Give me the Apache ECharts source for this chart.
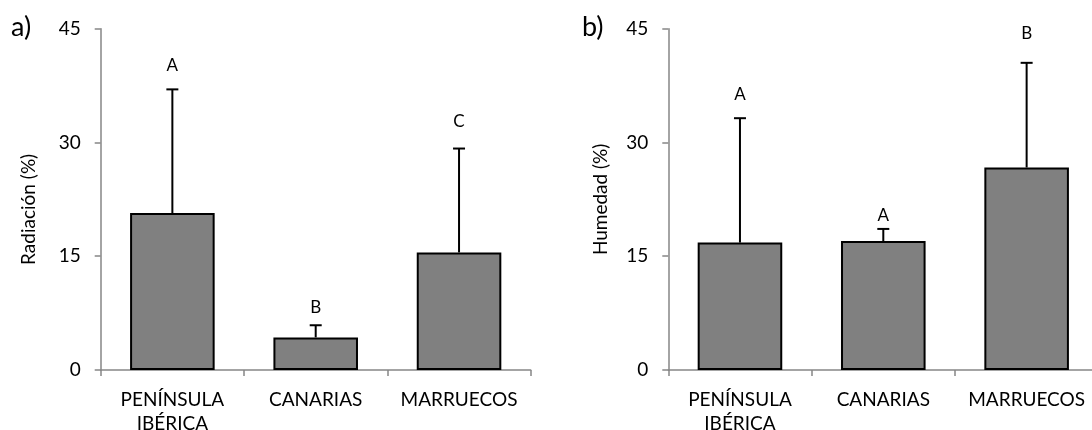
<!DOCTYPE html>
<html><head><meta charset="utf-8">
<script src="https://cdn.jsdelivr.net/npm/echarts@6/dist/echarts.min.js"></script>
<style>html,body{margin:0;padding:0;background:#fff}#c{width:1092px;height:430px}</style>
</head><body><div id="c"></div>
<script>
const categories = ['PENÍNSULA\nIBÉRICA', 'CANARIAS', 'MARRUECOS'];
const yTicks = [0, 15, 30, 45];
// Panel a) Radiación
const radMean = [20.7, 4.3, 15.5];
const radErrTop = [37.0, 5.9, 29.2];
const radLetters = ['A', 'B', 'C'];
const radLetterY = [40.2, 8.2, 32.7];
// Panel b) Humedad
const humMean = [16.8, 17.0, 26.7];
const humErrTop = [33.2, 18.6, 40.5];
const humLetters = ['A', 'A', 'B'];
const humLetterY = [36.3, 20.4, 44.4];

const FONT = 'Lato';
const chart = echarts.init(document.getElementById('c'), null, {renderer: 'canvas'});

function xAxis(gi) {
  return {
    type: 'category', gridIndex: gi, data: categories,
    axisLine: {lineStyle: {color: '#868686', width: 1.5}},
    axisTick: {show: true, length: 6, lineStyle: {color: '#868686', width: 1.5}},
    axisLabel: {color: '#000', fontFamily: FONT, fontSize: 19, lineHeight: 24, margin: 18, interval: 0}
  };
}
function yAxis(gi, name, gap, pad) {
  return {
    type: 'value', gridIndex: gi, min: 0, max: 45, interval: 15,
    name: name, nameLocation: 'middle', nameGap: gap, nameRotate: 90,
    nameTextStyle: {color: '#000', fontFamily: FONT, fontSize: 19, padding: pad},
    splitLine: {show: false},
    axisLine: {show: true, lineStyle: {color: '#868686', width: 1.5}},
    axisTick: {show: true, length: 6, lineStyle: {color: '#868686', width: 1.5}},
    axisLabel: {color: '#000', fontFamily: FONT, fontSize: 19, margin: 20,
      formatter: v => yTicks.includes(v) ? String(v) : ''}
  };
}
function barSeries(gi, data) {
  return {
    type: 'bar', xAxisIndex: gi, yAxisIndex: gi, data: data, barWidth: '59%',
    itemStyle: {color: '#808080', borderColor: '#000', borderWidth: 2},
    z: 2
  };
}
function errSeries(gi, mean, top) {
  return {
    type: 'custom', xAxisIndex: gi, yAxisIndex: gi, z: 3,
    data: mean.map((m, i) => [i, m, top[i]]),
    renderItem: function (params, api) {
      const b = api.coord([api.value(0), api.value(1)]);
      const t = api.coord([api.value(0), api.value(2)]);
      const hw = 6;
      return {type: 'group', children: [
        {type: 'line', shape: {x1: b[0], y1: b[1], x2: t[0], y2: t[1]}, style: {stroke: '#000', lineWidth: 2}},
        {type: 'line', shape: {x1: t[0] - hw, y1: t[1], x2: t[0] + hw, y2: t[1]}, style: {stroke: '#000', lineWidth: 2}}
      ]};
    }
  };
}
function letterSeries(gi, letters, ys) {
  return {
    type: 'custom', xAxisIndex: gi, yAxisIndex: gi, z: 4,
    data: ys.map((y, i) => [i, y, letters[i]]),
    renderItem: function (params, api) {
      const p = api.coord([api.value(0), api.value(1)]);
      return {type: 'text', style: {text: letters[params.dataIndex], x: p[0], y: p[1],
        align: 'center', verticalAlign: 'middle', fill: '#000', font: '17px ' + FONT}};
    }
  };
}

chart.setOption({
  animation: false,
  grid: [
    {left: 100.7, top: 28.7, width: 430, height: 341.3, outerBoundsMode: 'none', containLabel: false},
    {left: 668.3, top: 28.7, width: 430, height: 341.3, outerBoundsMode: 'none', containLabel: false}
  ],
  xAxis: [xAxis(0), xAxis(1)],
  yAxis: [yAxis(0, 'Radiación (%)', 62, [0, 20, 0, 0]), yAxis(1, 'Humedad (%)', 58, 0)],
  graphic: [
    {type: 'text', left: 11, top: 14, style: {text: 'a)', font: '27px ' + FONT, fill: '#000'}},
    {type: 'text', left: 582, top: 14, style: {text: 'b)', font: '27px ' + FONT, fill: '#000'}}
  ],
  series: [
    barSeries(0, radMean), errSeries(0, radMean, radErrTop), letterSeries(0, radLetters, radLetterY),
    barSeries(1, humMean), errSeries(1, humMean, humErrTop), letterSeries(1, humLetters, humLetterY)
  ]
});
</script></body></html>
